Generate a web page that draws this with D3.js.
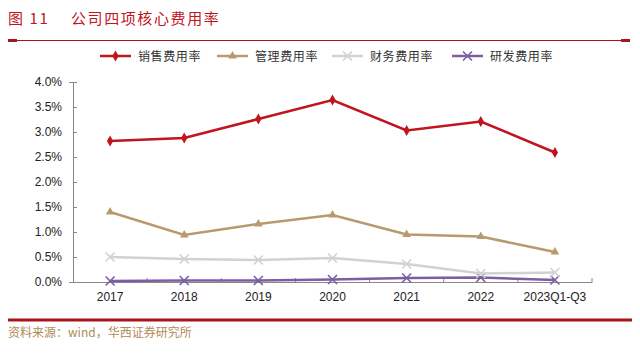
<!DOCTYPE html>
<html>
<head>
<meta charset="utf-8">
<script src="https://cdn.jsdelivr.net/npm/d3@7"></script>
<style>
  html, body { margin: 0; padding: 0; background: #fff; }
  svg { display: block; }
</style>
</head>
<body>
<div id="chart"></div>
<script>
const categories = ["2017", "2018", "2019", "2020", "2021", "2022", "2023Q1-Q3"];
const seriesNames = ["销售费用率", "管理费用率", "财务费用率", "研发费用率"];
const sales = [2.82, 2.88, 3.26, 3.64, 3.03, 3.21, 2.59];
const admin = [1.40, 0.94, 1.16, 1.34, 0.95, 0.91, 0.60];
const finance = [0.50, 0.46, 0.44, 0.48, 0.36, 0.17, 0.19];
const rnd = [0.02, 0.03, 0.03, 0.05, 0.08, 0.09, 0.04];
const yTicks = [0, 0.5, 1.0, 1.5, 2.0, 2.5, 3.0, 3.5, 4.0];

const RED = "#c0141e";
const TAN = "#b99a6e";
const GREY = "#d2d2d2";
const PURPLE = "#7b5ea3";

const series = [
  { name: seriesNames[0], values: sales, color: RED, marker: "diamond" },
  { name: seriesNames[1], values: admin, color: TAN, marker: "triangle" },
  { name: seriesNames[2], values: finance, color: GREY, marker: "cross" },
  { name: seriesNames[3], values: rnd, color: PURPLE, marker: "cross" }
];

const width = 640, height = 354;
const svg = d3.select("#chart").append("svg")
  .attr("width", width).attr("height", height);

const cjk = "'Noto Sans CJK SC', sans-serif";
const num = "'Liberation Sans', Arial, sans-serif";

// title
svg.append("text")
  .attr("x", 8).attr("y", 24)
  .attr("fill", RED)
  .attr("font-family", cjk)
  .attr("font-size", 15)
  .attr("letter-spacing", 1.6)
  .text("图 11　 公司四项核心费用率");

svg.append("line")
  .attr("x1", 8).attr("x2", 630).attr("y1", 40.5).attr("y2", 40.5)
  .attr("stroke", "#a8141c").attr("stroke-width", 1);
svg.append("rect").attr("x", 8).attr("y", 39).attr("width", 9).attr("height", 3).attr("fill", "#a8141c");
svg.append("rect").attr("x", 621).attr("y", 39).attr("width", 9).attr("height", 3).attr("fill", "#a8141c");

// scales
const x = d3.scaleBand().domain(categories).range([73, 592]);
const y = d3.scaleLinear().domain([0, 4]).range([282, 82]);
const cx = d => x(d) + x.bandwidth() / 2;

// axes
const yAxis = svg.append("g").attr("transform", "translate(73,0)")
  .call(d3.axisLeft(y).tickValues(yTicks).tickFormat(d => d.toFixed(1) + "%").tickSize(4));
yAxis.select(".domain").attr("stroke", "#888");
yAxis.selectAll(".tick line").attr("stroke", "#888").attr("x2", 4).attr("x1", 0);
yAxis.selectAll("text").attr("font-family", num).attr("font-size", 12).attr("fill", "#222").attr("x", -11);

const xAxis = svg.append("g").attr("transform", "translate(0,282)")
  .call(d3.axisBottom(x).tickSize(0).tickPadding(10));
xAxis.select(".domain").attr("stroke", "#888");
xAxis.selectAll("text").attr("font-family", num).attr("font-size", 12).attr("fill", "#222");
// category boundary ticks
svg.append("g").selectAll("line")
  .data(categories)
  .join("line")
  .attr("x1", d => x(d) + x.bandwidth())
  .attr("x2", d => x(d) + x.bandwidth())
  .attr("y1", 282).attr("y2", 278)
  .attr("stroke", "#888");

function drawMarker(g, type, color, px, py) {
  if (type === "diamond") {
    g.append("path").attr("d", d3.symbol(d3.symbolDiamond, 34)())
      .attr("transform", `translate(${px},${py})`).attr("fill", color);
  } else if (type === "triangle") {
    g.append("path").attr("d", d3.symbol(d3.symbolTriangle, 32)())
      .attr("transform", `translate(${px},${py})`).attr("fill", color);
  } else {
    g.append("path").attr("d", `M${px - 4.5},${py - 4.5}L${px + 4.5},${py + 4.5}M${px - 4.5},${py + 4.5}L${px + 4.5},${py - 4.5}`)
      .attr("stroke", color).attr("stroke-width", 1.6);
  }
}

const line = d3.line().x((d, i) => cx(categories[i])).y(d => y(d));
const plot = svg.append("g");
series.slice().reverse().forEach(s => {
  plot.append("path").datum(s.values)
    .attr("d", line).attr("fill", "none")
    .attr("stroke", s.color).attr("stroke-width", 2.5);
  s.values.forEach((v, i) => drawMarker(plot, s.marker, s.color, cx(categories[i]), y(v)));
});

// legend
const legendX = [100, 217, 332, 452];
const legend = svg.append("g");
series.forEach((s, i) => {
  const lx = legendX[i], ly = 56;
  legend.append("line").attr("x1", lx).attr("x2", lx + 31).attr("y1", ly).attr("y2", ly)
    .attr("stroke", s.color).attr("stroke-width", 2.5);
  drawMarker(legend, s.marker, s.color, lx + 15.5, ly);
  legend.append("text").attr("x", lx + 38).attr("y", ly + 4.5)
    .attr("font-family", cjk).attr("font-size", 12).attr("fill", "#333")
    .attr("letter-spacing", 0.6)
    .text(s.name);
});

// footer
svg.append("line")
  .attr("x1", 8).attr("x2", 632).attr("y1", 320).attr("y2", 320)
  .attr("stroke", "#a8141c").attr("stroke-width", 3);
svg.append("text")
  .attr("x", 8).attr("y", 337)
  .attr("font-family", cjk).attr("font-size", 12).attr("fill", "#b08a5a")
  .text("资料来源：wind，华西证券研究所");
</script>
</body>
</html>
